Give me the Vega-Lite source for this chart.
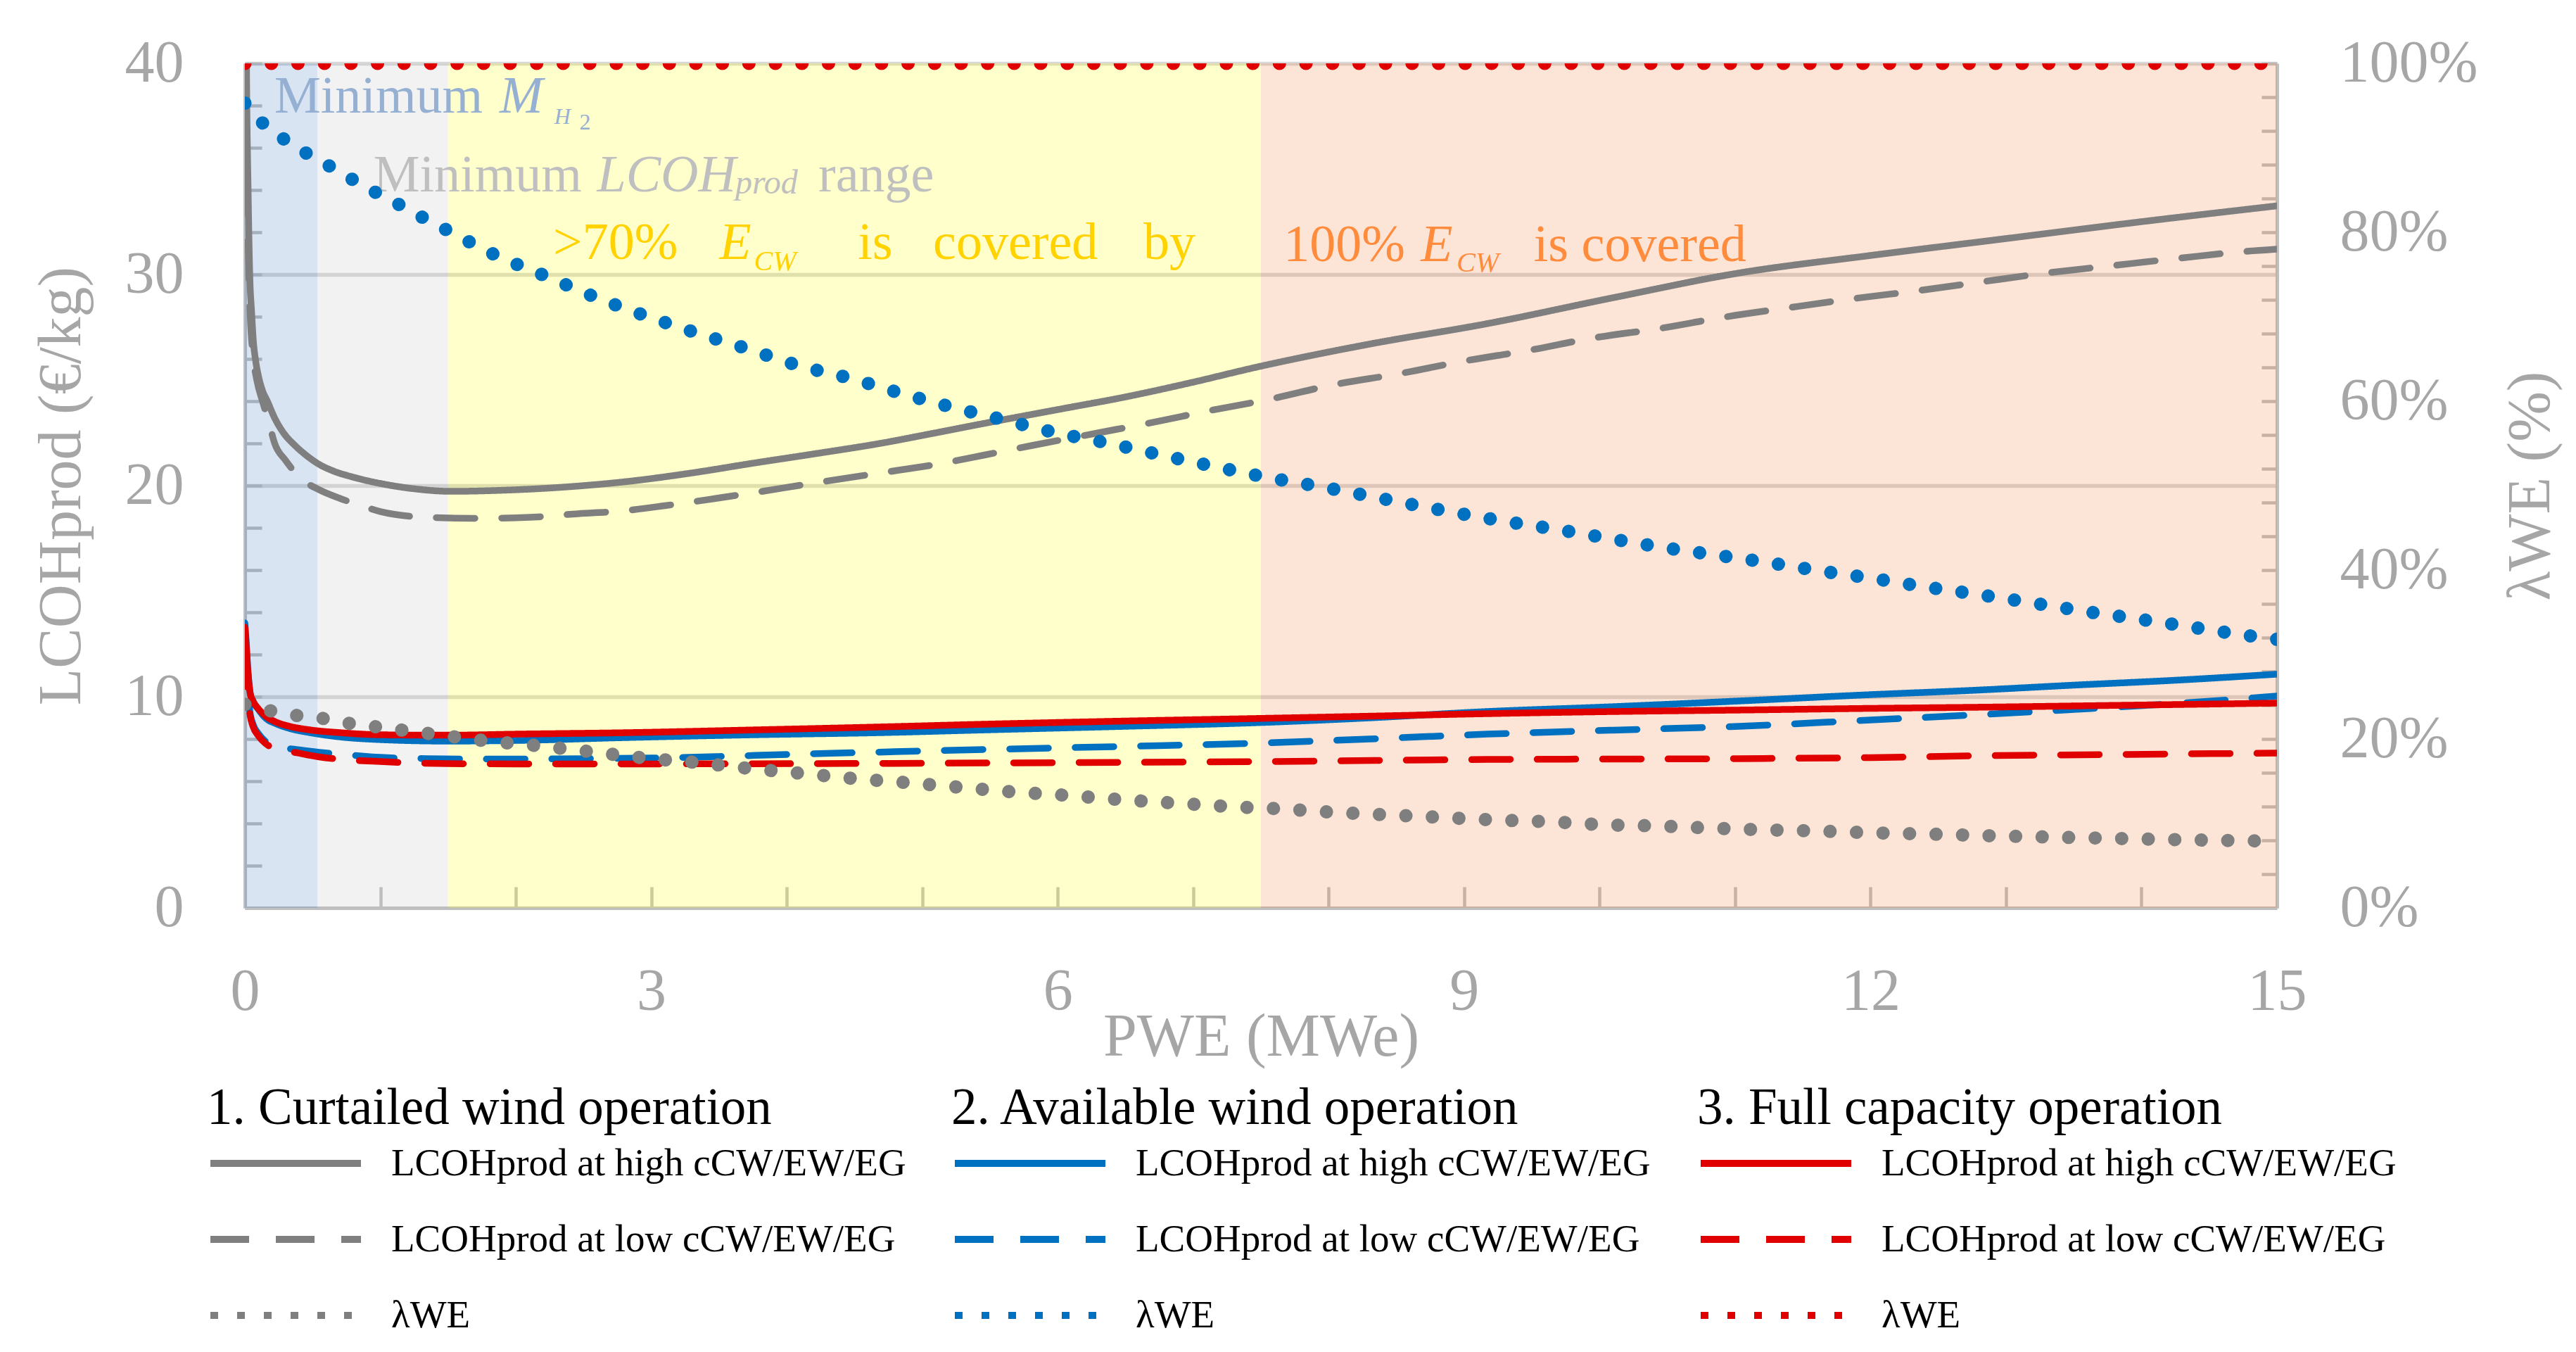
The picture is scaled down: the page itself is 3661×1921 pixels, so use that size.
{
  "$schema": "https://vega.github.io/schema/vega-lite/v6.json",
  "width": 2888,
  "height": 1200,
  "autosize": {"type": "none"},
  "padding": {"left": 348, "top": 90, "right": 425, "bottom": 631},
  "background": "white",
  "config": {
    "font": "Liberation Serif",
    "view": {"stroke": null},
    "axis": {"labelFont": "Liberation Serif", "titleFont": "Liberation Serif"},
    "legend": {"labelFont": "Liberation Serif", "titleFont": "Liberation Serif"}
  },
  "datasets": {
    "bands": [
      {"zone": "Minimum MH2", "start": 0, "end": 0.535},
      {"zone": "Minimum LCOHprod range", "start": 0.535, "end": 1.5},
      {"zone": ">70% ECW is covered by", "start": 1.5, "end": 7.5},
      {"zone": "100% ECW is covered", "start": 7.5, "end": 15}
    ],
    "lcoh": [
      {"mode":"curtailed","cost":"high","P":0.005,"LCOH":48},
      {"mode":"curtailed","cost":"high","P":0.012,"LCOH":40},
      {"mode":"curtailed","cost":"high","P":0.024,"LCOH":34},
      {"mode":"curtailed","cost":"high","P":0.036,"LCOH":30},
      {"mode":"curtailed","cost":"high","P":0.05,"LCOH":28.2},
      {"mode":"curtailed","cost":"high","P":0.062,"LCOH":26.9},
      {"mode":"curtailed","cost":"high","P":0.08,"LCOH":25.9},
      {"mode":"curtailed","cost":"high","P":0.1,"LCOH":25.2},
      {"mode":"curtailed","cost":"high","P":0.13,"LCOH":24.5},
      {"mode":"curtailed","cost":"high","P":0.166,"LCOH":24.0},
      {"mode":"curtailed","cost":"high","P":0.22,"LCOH":23.2},
      {"mode":"curtailed","cost":"high","P":0.285,"LCOH":22.5},
      {"mode":"curtailed","cost":"high","P":0.37,"LCOH":21.9},
      {"mode":"curtailed","cost":"high","P":0.46,"LCOH":21.4},
      {"mode":"curtailed","cost":"high","P":0.55,"LCOH":21.0},
      {"mode":"curtailed","cost":"high","P":0.65,"LCOH":20.7},
      {"mode":"curtailed","cost":"high","P":0.8,"LCOH":20.4},
      {"mode":"curtailed","cost":"high","P":1.0,"LCOH":20.1},
      {"mode":"curtailed","cost":"high","P":1.25,"LCOH":19.85},
      {"mode":"curtailed","cost":"high","P":1.52,"LCOH":19.73},
      {"mode":"curtailed","cost":"high","P":1.9,"LCOH":19.78},
      {"mode":"curtailed","cost":"high","P":2.4,"LCOH":19.95},
      {"mode":"curtailed","cost":"high","P":2.83,"LCOH":20.2},
      {"mode":"curtailed","cost":"high","P":3.3,"LCOH":20.6},
      {"mode":"curtailed","cost":"high","P":3.76,"LCOH":21.07},
      {"mode":"curtailed","cost":"high","P":4.2,"LCOH":21.5},
      {"mode":"curtailed","cost":"high","P":4.69,"LCOH":22.0},
      {"mode":"curtailed","cost":"high","P":5.1,"LCOH":22.5},
      {"mode":"curtailed","cost":"high","P":5.46,"LCOH":22.95},
      {"mode":"curtailed","cost":"high","P":6.0,"LCOH":23.6},
      {"mode":"curtailed","cost":"high","P":6.5,"LCOH":24.2},
      {"mode":"curtailed","cost":"high","P":7.0,"LCOH":24.9},
      {"mode":"curtailed","cost":"high","P":7.46,"LCOH":25.6},
      {"mode":"curtailed","cost":"high","P":8.3,"LCOH":26.7},
      {"mode":"curtailed","cost":"high","P":9.17,"LCOH":27.67},
      {"mode":"curtailed","cost":"high","P":10.1,"LCOH":28.9},
      {"mode":"curtailed","cost":"high","P":11.03,"LCOH":30.07},
      {"mode":"curtailed","cost":"high","P":12.0,"LCOH":30.9},
      {"mode":"curtailed","cost":"high","P":13.0,"LCOH":31.7},
      {"mode":"curtailed","cost":"high","P":14.0,"LCOH":32.5},
      {"mode":"curtailed","cost":"high","P":15,"LCOH":33.25},

      {"mode":"curtailed","cost":"low","P":0.005,"LCOH":44},
      {"mode":"curtailed","cost":"low","P":0.012,"LCOH":37},
      {"mode":"curtailed","cost":"low","P":0.024,"LCOH":31.5},
      {"mode":"curtailed","cost":"low","P":0.04,"LCOH":28},
      {"mode":"curtailed","cost":"low","P":0.06,"LCOH":26.2},
      {"mode":"curtailed","cost":"low","P":0.088,"LCOH":25.0},
      {"mode":"curtailed","cost":"low","P":0.13,"LCOH":24.0},
      {"mode":"curtailed","cost":"low","P":0.177,"LCOH":23.0},
      {"mode":"curtailed","cost":"low","P":0.22,"LCOH":22.0},
      {"mode":"curtailed","cost":"low","P":0.3,"LCOH":21.2},
      {"mode":"curtailed","cost":"low","P":0.42,"LCOH":20.3},
      {"mode":"curtailed","cost":"low","P":0.55,"LCOH":19.8},
      {"mode":"curtailed","cost":"low","P":0.7,"LCOH":19.4},
      {"mode":"curtailed","cost":"low","P":0.85,"LCOH":19.07},
      {"mode":"curtailed","cost":"low","P":1.0,"LCOH":18.77},
      {"mode":"curtailed","cost":"low","P":1.34,"LCOH":18.5},
      {"mode":"curtailed","cost":"low","P":1.7,"LCOH":18.45},
      {"mode":"curtailed","cost":"low","P":2.1,"LCOH":18.5},
      {"mode":"curtailed","cost":"low","P":2.46,"LCOH":18.67},
      {"mode":"curtailed","cost":"low","P":2.78,"LCOH":18.8},
      {"mode":"curtailed","cost":"low","P":3.1,"LCOH":19.05},
      {"mode":"curtailed","cost":"low","P":3.41,"LCOH":19.33},
      {"mode":"curtailed","cost":"low","P":3.76,"LCOH":19.67},
      {"mode":"curtailed","cost":"low","P":4.18,"LCOH":20.1},
      {"mode":"curtailed","cost":"low","P":4.69,"LCOH":20.6},
      {"mode":"curtailed","cost":"low","P":5.1,"LCOH":21.0},
      {"mode":"curtailed","cost":"low","P":5.46,"LCOH":21.45},
      {"mode":"curtailed","cost":"low","P":5.81,"LCOH":21.9},
      {"mode":"curtailed","cost":"low","P":6.3,"LCOH":22.5},
      {"mode":"curtailed","cost":"low","P":6.76,"LCOH":23.07},
      {"mode":"curtailed","cost":"low","P":7.08,"LCOH":23.5},
      {"mode":"curtailed","cost":"low","P":7.57,"LCOH":24.1},
      {"mode":"curtailed","cost":"low","P":8.03,"LCOH":24.77},
      {"mode":"curtailed","cost":"low","P":8.52,"LCOH":25.3},
      {"mode":"curtailed","cost":"low","P":9.0,"LCOH":25.9},
      {"mode":"curtailed","cost":"low","P":9.47,"LCOH":26.4},
      {"mode":"curtailed","cost":"low","P":9.96,"LCOH":27.0},
      {"mode":"curtailed","cost":"low","P":10.45,"LCOH":27.45},
      {"mode":"curtailed","cost":"low","P":10.91,"LCOH":27.97},
      {"mode":"curtailed","cost":"low","P":11.4,"LCOH":28.43},
      {"mode":"curtailed","cost":"low","P":11.89,"LCOH":28.87},
      {"mode":"curtailed","cost":"low","P":12.37,"LCOH":29.25},
      {"mode":"curtailed","cost":"low","P":12.84,"LCOH":29.67},
      {"mode":"curtailed","cost":"low","P":13.3,"LCOH":30.07},
      {"mode":"curtailed","cost":"low","P":13.8,"LCOH":30.43},
      {"mode":"curtailed","cost":"low","P":14.28,"LCOH":30.77},
      {"mode":"curtailed","cost":"low","P":14.78,"LCOH":31.1},
      {"mode":"curtailed","cost":"low","P":15,"LCOH":31.2},

      {"mode":"available","cost":"high","P":0.0,"LCOH":13.5},
      {"mode":"available","cost":"high","P":0.01,"LCOH":12.6},
      {"mode":"available","cost":"high","P":0.02,"LCOH":11.5},
      {"mode":"available","cost":"high","P":0.03,"LCOH":10.7},
      {"mode":"available","cost":"high","P":0.04,"LCOH":10.15},
      {"mode":"available","cost":"high","P":0.06,"LCOH":9.8},
      {"mode":"available","cost":"high","P":0.1,"LCOH":9.4},
      {"mode":"available","cost":"high","P":0.16,"LCOH":8.95},
      {"mode":"available","cost":"high","P":0.22,"LCOH":8.75},
      {"mode":"available","cost":"high","P":0.33,"LCOH":8.5},
      {"mode":"available","cost":"high","P":0.48,"LCOH":8.3},
      {"mode":"available","cost":"high","P":0.7,"LCOH":8.1},
      {"mode":"available","cost":"high","P":1.0,"LCOH":7.97},
      {"mode":"available","cost":"high","P":1.5,"LCOH":7.9},
      {"mode":"available","cost":"high","P":2.0,"LCOH":7.93},
      {"mode":"available","cost":"high","P":2.83,"LCOH":8.07},
      {"mode":"available","cost":"high","P":3.76,"LCOH":8.2},
      {"mode":"available","cost":"high","P":4.69,"LCOH":8.3},
      {"mode":"available","cost":"high","P":5.46,"LCOH":8.43},
      {"mode":"available","cost":"high","P":6.5,"LCOH":8.6},
      {"mode":"available","cost":"high","P":7.46,"LCOH":8.77},
      {"mode":"available","cost":"high","P":8.3,"LCOH":9.0},
      {"mode":"available","cost":"high","P":9.17,"LCOH":9.3},
      {"mode":"available","cost":"high","P":10.1,"LCOH":9.53},
      {"mode":"available","cost":"high","P":11.03,"LCOH":9.8},
      {"mode":"available","cost":"high","P":12.0,"LCOH":10.1},
      {"mode":"available","cost":"high","P":12.74,"LCOH":10.3},
      {"mode":"available","cost":"high","P":13.5,"LCOH":10.55},
      {"mode":"available","cost":"high","P":14.3,"LCOH":10.8},
      {"mode":"available","cost":"high","P":15,"LCOH":11.07},

      {"mode":"available","cost":"low","P":0.0,"LCOH":12.6},
      {"mode":"available","cost":"low","P":0.01,"LCOH":11.5},
      {"mode":"available","cost":"low","P":0.02,"LCOH":10.5},
      {"mode":"available","cost":"low","P":0.037,"LCOH":9.3},
      {"mode":"available","cost":"low","P":0.06,"LCOH":8.7},
      {"mode":"available","cost":"low","P":0.1,"LCOH":8.25},
      {"mode":"available","cost":"low","P":0.15,"LCOH":7.9},
      {"mode":"available","cost":"low","P":0.2,"LCOH":7.7},
      {"mode":"available","cost":"low","P":0.38,"LCOH":7.5},
      {"mode":"available","cost":"low","P":0.55,"LCOH":7.37},
      {"mode":"available","cost":"low","P":0.72,"LCOH":7.27},
      {"mode":"available","cost":"low","P":1.0,"LCOH":7.13},
      {"mode":"available","cost":"low","P":1.35,"LCOH":7.07},
      {"mode":"available","cost":"low","P":1.69,"LCOH":7.05},
      {"mode":"available","cost":"low","P":2.0,"LCOH":7.05},
      {"mode":"available","cost":"low","P":2.5,"LCOH":7.07},
      {"mode":"available","cost":"low","P":3.0,"LCOH":7.1},
      {"mode":"available","cost":"low","P":3.5,"LCOH":7.17},
      {"mode":"available","cost":"low","P":4.0,"LCOH":7.27},
      {"mode":"available","cost":"low","P":4.5,"LCOH":7.35},
      {"mode":"available","cost":"low","P":5.0,"LCOH":7.43},
      {"mode":"available","cost":"low","P":5.46,"LCOH":7.5},
      {"mode":"available","cost":"low","P":6.5,"LCOH":7.65},
      {"mode":"available","cost":"low","P":7.46,"LCOH":7.8},
      {"mode":"available","cost":"low","P":8.3,"LCOH":8.0},
      {"mode":"available","cost":"low","P":9.17,"LCOH":8.23},
      {"mode":"available","cost":"low","P":10.1,"LCOH":8.42},
      {"mode":"available","cost":"low","P":11.03,"LCOH":8.6},
      {"mode":"available","cost":"low","P":12.0,"LCOH":8.9},
      {"mode":"available","cost":"low","P":12.74,"LCOH":9.13},
      {"mode":"available","cost":"low","P":13.5,"LCOH":9.4},
      {"mode":"available","cost":"low","P":14.3,"LCOH":9.7},
      {"mode":"available","cost":"low","P":15,"LCOH":10.03},

      {"mode":"full","cost":"high","P":0.0,"LCOH":13.3},
      {"mode":"full","cost":"high","P":0.01,"LCOH":12.4},
      {"mode":"full","cost":"high","P":0.02,"LCOH":11.4},
      {"mode":"full","cost":"high","P":0.03,"LCOH":10.65},
      {"mode":"full","cost":"high","P":0.04,"LCOH":10.15},
      {"mode":"full","cost":"high","P":0.06,"LCOH":9.8},
      {"mode":"full","cost":"high","P":0.1,"LCOH":9.43},
      {"mode":"full","cost":"high","P":0.16,"LCOH":9.05},
      {"mode":"full","cost":"high","P":0.22,"LCOH":8.83},
      {"mode":"full","cost":"high","P":0.33,"LCOH":8.6},
      {"mode":"full","cost":"high","P":0.48,"LCOH":8.43},
      {"mode":"full","cost":"high","P":0.7,"LCOH":8.3},
      {"mode":"full","cost":"high","P":1.0,"LCOH":8.2},
      {"mode":"full","cost":"high","P":1.5,"LCOH":8.18},
      {"mode":"full","cost":"high","P":2.0,"LCOH":8.23},
      {"mode":"full","cost":"high","P":2.83,"LCOH":8.3},
      {"mode":"full","cost":"high","P":3.76,"LCOH":8.43},
      {"mode":"full","cost":"high","P":4.69,"LCOH":8.57},
      {"mode":"full","cost":"high","P":5.46,"LCOH":8.7},
      {"mode":"full","cost":"high","P":6.5,"LCOH":8.85},
      {"mode":"full","cost":"high","P":7.46,"LCOH":8.97},
      {"mode":"full","cost":"high","P":8.3,"LCOH":9.08},
      {"mode":"full","cost":"high","P":9.17,"LCOH":9.2},
      {"mode":"full","cost":"high","P":10.1,"LCOH":9.3},
      {"mode":"full","cost":"high","P":11.03,"LCOH":9.37},
      {"mode":"full","cost":"high","P":12.0,"LCOH":9.45},
      {"mode":"full","cost":"high","P":12.74,"LCOH":9.5},
      {"mode":"full","cost":"high","P":13.9,"LCOH":9.6},
      {"mode":"full","cost":"high","P":15,"LCOH":9.7},

      {"mode":"full","cost":"low","P":0.0,"LCOH":12.3},
      {"mode":"full","cost":"low","P":0.01,"LCOH":11.3},
      {"mode":"full","cost":"low","P":0.02,"LCOH":10.3},
      {"mode":"full","cost":"low","P":0.037,"LCOH":9.2},
      {"mode":"full","cost":"low","P":0.06,"LCOH":8.6},
      {"mode":"full","cost":"low","P":0.1,"LCOH":8.15},
      {"mode":"full","cost":"low","P":0.15,"LCOH":7.8},
      {"mode":"full","cost":"low","P":0.2,"LCOH":7.6},
      {"mode":"full","cost":"low","P":0.4,"LCOH":7.33},
      {"mode":"full","cost":"low","P":0.55,"LCOH":7.15},
      {"mode":"full","cost":"low","P":0.72,"LCOH":7.03},
      {"mode":"full","cost":"low","P":1.0,"LCOH":6.93},
      {"mode":"full","cost":"low","P":1.5,"LCOH":6.83},
      {"mode":"full","cost":"low","P":2.0,"LCOH":6.82},
      {"mode":"full","cost":"low","P":3.0,"LCOH":6.82},
      {"mode":"full","cost":"low","P":4.0,"LCOH":6.83},
      {"mode":"full","cost":"low","P":5.0,"LCOH":6.85},
      {"mode":"full","cost":"low","P":6.0,"LCOH":6.88},
      {"mode":"full","cost":"low","P":7.46,"LCOH":6.93},
      {"mode":"full","cost":"low","P":9.17,"LCOH":7.03},
      {"mode":"full","cost":"low","P":11.03,"LCOH":7.07},
      {"mode":"full","cost":"low","P":12.0,"LCOH":7.12},
      {"mode":"full","cost":"low","P":12.74,"LCOH":7.2},
      {"mode":"full","cost":"low","P":13.9,"LCOH":7.27},
      {"mode":"full","cost":"low","P":15,"LCOH":7.33}
    ],
    "lambda": [
      {"mode":"curtailed","P":0,"lambda":24.1},
      {"mode":"curtailed","P":0.2,"lambda":23.3},
      {"mode":"curtailed","P":0.4,"lambda":22.75},
      {"mode":"curtailed","P":0.59,"lambda":22.4},
      {"mode":"curtailed","P":0.79,"lambda":21.8},
      {"mode":"curtailed","P":0.99,"lambda":21.4},
      {"mode":"curtailed","P":1.38,"lambda":20.6},
      {"mode":"curtailed","P":1.77,"lambda":19.8},
      {"mode":"curtailed","P":2.16,"lambda":19.2},
      {"mode":"curtailed","P":2.55,"lambda":18.5},
      {"mode":"curtailed","P":2.95,"lambda":17.75},
      {"mode":"curtailed","P":3.34,"lambda":17.2},
      {"mode":"curtailed","P":3.73,"lambda":16.5},
      {"mode":"curtailed","P":4.13,"lambda":15.9},
      {"mode":"curtailed","P":4.51,"lambda":15.3},
      {"mode":"curtailed","P":4.91,"lambda":14.8},
      {"mode":"curtailed","P":5.3,"lambda":14.25},
      {"mode":"curtailed","P":5.7,"lambda":13.7},
      {"mode":"curtailed","P":6.09,"lambda":13.3},
      {"mode":"curtailed","P":6.48,"lambda":12.8},
      {"mode":"curtailed","P":6.88,"lambda":12.4},
      {"mode":"curtailed","P":7.27,"lambda":12.0},
      {"mode":"curtailed","P":7.67,"lambda":11.7},
      {"mode":"curtailed","P":8.06,"lambda":11.3},
      {"mode":"curtailed","P":8.46,"lambda":11.0},
      {"mode":"curtailed","P":8.85,"lambda":10.7},
      {"mode":"curtailed","P":9.25,"lambda":10.4},
      {"mode":"curtailed","P":9.64,"lambda":10.2},
      {"mode":"curtailed","P":10.03,"lambda":9.85},
      {"mode":"curtailed","P":10.43,"lambda":9.7},
      {"mode":"curtailed","P":10.82,"lambda":9.45},
      {"mode":"curtailed","P":11.21,"lambda":9.25},
      {"mode":"curtailed","P":11.61,"lambda":9.1},
      {"mode":"curtailed","P":12.0,"lambda":8.9},
      {"mode":"curtailed","P":12.41,"lambda":8.75},
      {"mode":"curtailed","P":13.0,"lambda":8.5},
      {"mode":"curtailed","P":13.6,"lambda":8.3},
      {"mode":"curtailed","P":14.2,"lambda":8.1},
      {"mode":"curtailed","P":15,"lambda":7.9},

      {"mode":"available","P":0,"lambda":95.3},
      {"mode":"available","P":0.14,"lambda":92.8},
      {"mode":"available","P":0.3,"lambda":90.9},
      {"mode":"available","P":0.46,"lambda":89.3},
      {"mode":"available","P":0.64,"lambda":87.7},
      {"mode":"available","P":0.81,"lambda":86.1},
      {"mode":"available","P":0.99,"lambda":84.5},
      {"mode":"available","P":1.16,"lambda":83.1},
      {"mode":"available","P":1.33,"lambda":81.6},
      {"mode":"available","P":1.51,"lambda":80.1},
      {"mode":"available","P":1.85,"lambda":77.3},
      {"mode":"available","P":2.23,"lambda":74.75},
      {"mode":"available","P":2.59,"lambda":72.3},
      {"mode":"available","P":2.96,"lambda":70.1},
      {"mode":"available","P":3.33,"lambda":68.1},
      {"mode":"available","P":3.71,"lambda":66.2},
      {"mode":"available","P":4.08,"lambda":64.25},
      {"mode":"available","P":4.47,"lambda":62.7},
      {"mode":"available","P":4.85,"lambda":60.9},
      {"mode":"available","P":5.23,"lambda":59.25},
      {"mode":"available","P":5.61,"lambda":57.75},
      {"mode":"available","P":5.99,"lambda":56.25},
      {"mode":"available","P":6.38,"lambda":55.0},
      {"mode":"available","P":6.77,"lambda":53.6},
      {"mode":"available","P":7.16,"lambda":52.25},
      {"mode":"available","P":7.54,"lambda":51.0},
      {"mode":"available","P":7.93,"lambda":49.9},
      {"mode":"available","P":8.51,"lambda":48.1},
      {"mode":"available","P":8.9,"lambda":46.9},
      {"mode":"available","P":9.29,"lambda":45.8},
      {"mode":"available","P":9.69,"lambda":44.8},
      {"mode":"available","P":10.07,"lambda":43.75},
      {"mode":"available","P":10.46,"lambda":42.7},
      {"mode":"available","P":10.85,"lambda":41.8},
      {"mode":"available","P":11.24,"lambda":40.9},
      {"mode":"available","P":11.63,"lambda":39.9},
      {"mode":"available","P":12.02,"lambda":39.0},
      {"mode":"available","P":12.41,"lambda":38.0},
      {"mode":"available","P":12.8,"lambda":37.1},
      {"mode":"available","P":13.2,"lambda":36.1},
      {"mode":"available","P":13.59,"lambda":35.1},
      {"mode":"available","P":13.98,"lambda":34.2},
      {"mode":"available","P":14.37,"lambda":33.25},
      {"mode":"available","P":14.76,"lambda":32.3},
      {"mode":"available","P":15,"lambda":31.8},

      {"mode":"full","P":0,"lambda":100},
      {"mode":"full","P":15,"lambda":100}
    ]
  },
  "layer": [
    {
      "data": {"name": "bands"},
      "mark": {"type": "rect", "opacity": 0.2},
      "encoding": {
        "x": {
          "field": "start", "type": "quantitative",
          "scale": {"domain": [0, 15], "nice": false},
          "axis": {
            "values": [0,1,2,3,4,5,6,7,8,9,10,11,12,13,14,15],
            "labelExpr": "datum.value % 3 === 0 ? '' + datum.value : ''",
            "title": "PWE (MWe)",
            "grid": false,
            "domainColor": "#BFBFBF", "domainWidth": 5,
            "tickColor": "#BFBFBF", "tickWidth": 4.5, "tickSize": -30,
            "labelFontSize": 84, "labelColor": "#A6A6A6", "labelPadding": 108,
            "labelFlush": false, "labelOverlap": false,
            "titleFontSize": 86, "titleColor": "#A6A6A6", "titleFontWeight": "normal", "titlePadding": -20,
            "zindex": 0
          }
        },
        "x2": {"field": "end"},
        "fill": {
          "field": "zone", "type": "nominal",
          "scale": {
            "domain": ["Minimum MH2", "Minimum LCOHprod range", ">70% ECW is covered by", "100% ECW is covered"],
            "range": ["#4178C3", "#BEBEBE", "#FFFF00", "#F07D32"]
          },
          "legend": null
        }
      }
    },
    {
      "layer": [
        {
          "data": {"name": "lcoh"},
          "transform": [{"filter": "datum.mode === 'curtailed'"}],
          "mark": {"type": "line", "strokeWidth": 9.5, "strokeCap": "round", "clip": true, "interpolate": "monotone"},
          "encoding": {
            "x": {"field": "P", "type": "quantitative", "scale": {"domain": [0, 15], "nice": false}},
            "y": {
              "field": "LCOH", "type": "quantitative",
              "scale": {"domain": [0, 40], "nice": false},
              "axis": {
                "orient": "left",
                "values": [0,2,4,6,8,10,12,14,16,18,20,22,24,26,28,30,32,34,36,38,40],
                "labelExpr": "datum.value % 10 === 0 ? '' + datum.value : ''",
                "title": "LCOHprod (€/kg)",
                "grid": true, "gridColor": "#D9D9D9", "gridWidth": 5.5,
                "gridOpacity": {"condition": {"test": "datum.value % 10 === 0 && datum.value > 0", "value": 1}, "value": 0},
                "domainColor": "#BFBFBF", "domainWidth": 5,
                "tickColor": "#BFBFBF", "tickWidth": 4.5, "tickSize": -24,
                "labelFontSize": 84, "labelColor": "#A6A6A6", "labelPadding": 111, "labelOverlap": false,
                "titleFontSize": 86, "titleColor": "#A6A6A6", "titleFontWeight": "normal", "titlePadding": 46,
                "zindex": 0
              }
            },
            "color": {
              "field": "cost", "type": "nominal",
              "scale": {"domain": ["high", "low", "lambda"], "range": ["#7F7F7F", "#7F7F7F", "#7F7F7F"]},
              "legend": {
                "title": "1. Curtailed wind operation",
                "orient": "none", "legendX": -54, "legendY": 1449, "direction": "vertical",
                "symbolType": "stroke", "symbolSize": 45796, "symbolStrokeWidth": 10,
                "clipHeight": 58, "rowPadding": 50, "padding": 0,
                "labelExpr": "datum.value === 'high' ? 'LCOHprod at high cCW/EW/EG' : datum.value === 'low' ? 'LCOHprod at low cCW/EW/EG' : 'λWE'",
                "labelFontSize": 55, "labelColor": "#000000", "labelOffset": 38, "labelLimit": 3000,
                "titleFontSize": 73, "titleFontWeight": "normal", "titleColor": "#000000", "titlePadding": 12, "titleLimit": 3000, "titleAnchor": "start"
              }
            },
            "strokeDash": {
              "field": "cost", "type": "nominal",
              "scale": {"domain": ["high", "low", "lambda"], "range": [[1, 0], [55, 38], [11, 27]]},
              "legend": {
                "title": "1. Curtailed wind operation",
                "orient": "none", "legendX": -54, "legendY": 1449, "direction": "vertical",
                "symbolType": "stroke", "symbolSize": 45796, "symbolStrokeWidth": 10,
                "clipHeight": 58, "rowPadding": 50, "padding": 0,
                "labelExpr": "datum.value === 'high' ? 'LCOHprod at high cCW/EW/EG' : datum.value === 'low' ? 'LCOHprod at low cCW/EW/EG' : 'λWE'",
                "labelFontSize": 55, "labelColor": "#000000", "labelOffset": 38, "labelLimit": 3000,
                "titleFontSize": 73, "titleFontWeight": "normal", "titleColor": "#000000", "titlePadding": 12, "titleLimit": 3000, "titleAnchor": "start"
              }
            }
          }
        },
        {
          "data": {"values": [{"t": "Minimum", "P": 0.218, "L": 37.68}]},
          "mark": {"type": "text", "align": "left", "baseline": "alphabetic", "fontSize": 74, "color": "#95B0D2"},
          "encoding": {
            "x": {"field": "P", "type": "quantitative", "scale": {"domain": [0, 15], "nice": false}},
            "y": {"field": "L", "type": "quantitative", "scale": {"domain": [0, 40], "nice": false}},
            "text": {"field": "t"}
          }
        },
        {
          "data": {"values": [{"t": "M", "P": 1.88, "L": 37.68}]},
          "mark": {"type": "text", "align": "left", "baseline": "alphabetic", "fontSize": 74, "fontStyle": "italic", "color": "#95B0D2"},
          "encoding": {
            "x": {"field": "P", "type": "quantitative", "scale": {"domain": [0, 15], "nice": false}},
            "y": {"field": "L", "type": "quantitative", "scale": {"domain": [0, 40], "nice": false}},
            "text": {"field": "t"}
          }
        },
        {
          "data": {"values": [{"t": "H", "P": 2.284, "L": 37.13}]},
          "mark": {"type": "text", "align": "left", "baseline": "alphabetic", "fontSize": 32, "fontStyle": "italic", "color": "#95B0D2"},
          "encoding": {
            "x": {"field": "P", "type": "quantitative", "scale": {"domain": [0, 15], "nice": false}},
            "y": {"field": "L", "type": "quantitative", "scale": {"domain": [0, 40], "nice": false}},
            "text": {"field": "t"}
          }
        },
        {
          "data": {"values": [{"t": "2", "P": 2.47, "L": 36.87}]},
          "mark": {"type": "text", "align": "left", "baseline": "alphabetic", "fontSize": 32, "color": "#95B0D2"},
          "encoding": {
            "x": {"field": "P", "type": "quantitative", "scale": {"domain": [0, 15], "nice": false}},
            "y": {"field": "L", "type": "quantitative", "scale": {"domain": [0, 40], "nice": false}},
            "text": {"field": "t"}
          }
        },
        {
          "data": {"values": [{"t": "Minimum", "P": 0.949, "L": 33.93}, {"t": "range", "P": 4.233, "L": 33.93}]},
          "mark": {"type": "text", "align": "left", "baseline": "alphabetic", "fontSize": 74, "color": "#BFBFBF"},
          "encoding": {
            "x": {"field": "P", "type": "quantitative", "scale": {"domain": [0, 15], "nice": false}},
            "y": {"field": "L", "type": "quantitative", "scale": {"domain": [0, 40], "nice": false}},
            "text": {"field": "t"}
          }
        },
        {
          "data": {"values": [{"t": "LCOH", "P": 2.6, "L": 33.93}]},
          "mark": {"type": "text", "align": "left", "baseline": "alphabetic", "fontSize": 74, "fontStyle": "italic", "color": "#BFBFBF"},
          "encoding": {
            "x": {"field": "P", "type": "quantitative", "scale": {"domain": [0, 15], "nice": false}},
            "y": {"field": "L", "type": "quantitative", "scale": {"domain": [0, 40], "nice": false}},
            "text": {"field": "t"}
          }
        },
        {
          "data": {"values": [{"t": "prod", "P": 3.62, "L": 33.83}]},
          "mark": {"type": "text", "align": "left", "baseline": "alphabetic", "fontSize": 48, "fontStyle": "italic", "color": "#BFBFBF"},
          "encoding": {
            "x": {"field": "P", "type": "quantitative", "scale": {"domain": [0, 15], "nice": false}},
            "y": {"field": "L", "type": "quantitative", "scale": {"domain": [0, 40], "nice": false}},
            "text": {"field": "t"}
          }
        },
        {
          "data": {"values": [{"t": ">70%", "P": 2.275, "L": 30.73}, {"t": "is", "P": 4.525, "L": 30.73}, {"t": "covered", "P": 5.08, "L": 30.73}, {"t": "by", "P": 6.633, "L": 30.73}]},
          "mark": {"type": "text", "align": "left", "baseline": "alphabetic", "fontSize": 74, "color": "#FFD200"},
          "encoding": {
            "x": {"field": "P", "type": "quantitative", "scale": {"domain": [0, 15], "nice": false}},
            "y": {"field": "L", "type": "quantitative", "scale": {"domain": [0, 40], "nice": false}},
            "text": {"field": "t"}
          }
        },
        {
          "data": {"values": [{"t": "E", "P": 3.503, "L": 30.73}]},
          "mark": {"type": "text", "align": "left", "baseline": "alphabetic", "fontSize": 74, "fontStyle": "italic", "color": "#FFD200"},
          "encoding": {
            "x": {"field": "P", "type": "quantitative", "scale": {"domain": [0, 15], "nice": false}},
            "y": {"field": "L", "type": "quantitative", "scale": {"domain": [0, 40], "nice": false}},
            "text": {"field": "t"}
          }
        },
        {
          "data": {"values": [{"t": "CW", "P": 3.759, "L": 30.2}]},
          "mark": {"type": "text", "align": "left", "baseline": "alphabetic", "fontSize": 40, "fontStyle": "italic", "color": "#FFD200"},
          "encoding": {
            "x": {"field": "P", "type": "quantitative", "scale": {"domain": [0, 15], "nice": false}},
            "y": {"field": "L", "type": "quantitative", "scale": {"domain": [0, 40], "nice": false}},
            "text": {"field": "t"}
          }
        },
        {
          "data": {"values": [{"t": "100%", "P": 7.668, "L": 30.65}, {"t": "is covered", "P": 9.514, "L": 30.65}]},
          "mark": {"type": "text", "align": "left", "baseline": "alphabetic", "fontSize": 74, "color": "#FF8B3D"},
          "encoding": {
            "x": {"field": "P", "type": "quantitative", "scale": {"domain": [0, 15], "nice": false}},
            "y": {"field": "L", "type": "quantitative", "scale": {"domain": [0, 40], "nice": false}},
            "text": {"field": "t"}
          }
        },
        {
          "data": {"values": [{"t": "E", "P": 8.68, "L": 30.65}]},
          "mark": {"type": "text", "align": "left", "baseline": "alphabetic", "fontSize": 74, "fontStyle": "italic", "color": "#FF8B3D"},
          "encoding": {
            "x": {"field": "P", "type": "quantitative", "scale": {"domain": [0, 15], "nice": false}},
            "y": {"field": "L", "type": "quantitative", "scale": {"domain": [0, 40], "nice": false}},
            "text": {"field": "t"}
          }
        },
        {
          "data": {"values": [{"t": "CW", "P": 8.945, "L": 30.13}]},
          "mark": {"type": "text", "align": "left", "baseline": "alphabetic", "fontSize": 40, "fontStyle": "italic", "color": "#FF8B3D"},
          "encoding": {
            "x": {"field": "P", "type": "quantitative", "scale": {"domain": [0, 15], "nice": false}},
            "y": {"field": "L", "type": "quantitative", "scale": {"domain": [0, 40], "nice": false}},
            "text": {"field": "t"}
          }
        },
        {
          "data": {"name": "lcoh"},
          "transform": [{"filter": "datum.mode === 'available'"}],
          "mark": {"type": "line", "strokeWidth": 9.5, "strokeCap": "round", "clip": true, "interpolate": "monotone"},
          "encoding": {
            "x": {"field": "P", "type": "quantitative", "scale": {"domain": [0, 15], "nice": false}},
            "y": {"field": "LCOH", "type": "quantitative", "scale": {"domain": [0, 40], "nice": false}},
            "color": {
              "field": "cost", "type": "nominal",
              "scale": {"domain": ["high", "low", "lambda"], "range": ["#0070C0", "#0070C0", "#0070C0"]},
              "legend": {
                "title": "2. Available wind operation",
                "orient": "none", "legendX": 1004, "legendY": 1449, "direction": "vertical",
                "symbolType": "stroke", "symbolSize": 45796, "symbolStrokeWidth": 10,
                "clipHeight": 58, "rowPadding": 50, "padding": 0,
                "labelExpr": "datum.value === 'high' ? 'LCOHprod at high cCW/EW/EG' : datum.value === 'low' ? 'LCOHprod at low cCW/EW/EG' : 'λWE'",
                "labelFontSize": 55, "labelColor": "#000000", "labelOffset": 38, "labelLimit": 3000,
                "titleFontSize": 73, "titleFontWeight": "normal", "titleColor": "#000000", "titlePadding": 12, "titleLimit": 3000, "titleAnchor": "start"
              }
            },
            "strokeDash": {
              "field": "cost", "type": "nominal",
              "scale": {"domain": ["high", "low", "lambda"], "range": [[1, 0], [55, 38], [11, 27]]},
              "legend": {
                "title": "2. Available wind operation",
                "orient": "none", "legendX": 1004, "legendY": 1449, "direction": "vertical",
                "symbolType": "stroke", "symbolSize": 45796, "symbolStrokeWidth": 10,
                "clipHeight": 58, "rowPadding": 50, "padding": 0,
                "labelExpr": "datum.value === 'high' ? 'LCOHprod at high cCW/EW/EG' : datum.value === 'low' ? 'LCOHprod at low cCW/EW/EG' : 'λWE'",
                "labelFontSize": 55, "labelColor": "#000000", "labelOffset": 38, "labelLimit": 3000,
                "titleFontSize": 73, "titleFontWeight": "normal", "titleColor": "#000000", "titlePadding": 12, "titleLimit": 3000, "titleAnchor": "start"
              }
            }
          }
        },
        {
          "data": {"name": "lcoh"},
          "transform": [{"filter": "datum.mode === 'full'"}],
          "mark": {"type": "line", "strokeWidth": 9.5, "strokeCap": "round", "clip": true, "interpolate": "monotone"},
          "encoding": {
            "x": {"field": "P", "type": "quantitative", "scale": {"domain": [0, 15], "nice": false}},
            "y": {"field": "LCOH", "type": "quantitative", "scale": {"domain": [0, 40], "nice": false}},
            "color": {
              "field": "cost", "type": "nominal",
              "scale": {"domain": ["high", "low", "lambda"], "range": ["#E00000", "#E00000", "#E00000"]},
              "legend": {
                "title": "3. Full capacity operation",
                "orient": "none", "legendX": 2064, "legendY": 1449, "direction": "vertical",
                "symbolType": "stroke", "symbolSize": 45796, "symbolStrokeWidth": 10,
                "clipHeight": 58, "rowPadding": 50, "padding": 0,
                "labelExpr": "datum.value === 'high' ? 'LCOHprod at high cCW/EW/EG' : datum.value === 'low' ? 'LCOHprod at low cCW/EW/EG' : 'λWE'",
                "labelFontSize": 55, "labelColor": "#000000", "labelOffset": 38, "labelLimit": 3000,
                "titleFontSize": 73, "titleFontWeight": "normal", "titleColor": "#000000", "titlePadding": 12, "titleLimit": 3000, "titleAnchor": "start"
              }
            },
            "strokeDash": {
              "field": "cost", "type": "nominal",
              "scale": {"domain": ["high", "low", "lambda"], "range": [[1, 0], [55, 38], [11, 27]]},
              "legend": {
                "title": "3. Full capacity operation",
                "orient": "none", "legendX": 2064, "legendY": 1449, "direction": "vertical",
                "symbolType": "stroke", "symbolSize": 45796, "symbolStrokeWidth": 10,
                "clipHeight": 58, "rowPadding": 50, "padding": 0,
                "labelExpr": "datum.value === 'high' ? 'LCOHprod at high cCW/EW/EG' : datum.value === 'low' ? 'LCOHprod at low cCW/EW/EG' : 'λWE'",
                "labelFontSize": 55, "labelColor": "#000000", "labelOffset": 38, "labelLimit": 3000,
                "titleFontSize": 73, "titleFontWeight": "normal", "titleColor": "#000000", "titlePadding": 12, "titleLimit": 3000, "titleAnchor": "start"
              }
            }
          }
        }
      ],
      "resolve": {"scale": {"color": "independent", "strokeDash": "independent"}}
    },
    {
      "data": {"name": "lambda"},
      "mark": {"type": "line", "strokeWidth": 19, "strokeCap": "round", "strokeDash": [0.1, 37.6], "clip": true, "interpolate": "monotone"},
      "encoding": {
        "x": {"field": "P", "type": "quantitative", "scale": {"domain": [0, 15], "nice": false}},
        "y": {
          "field": "lambda", "type": "quantitative",
          "scale": {"domain": [0, 100], "nice": false},
          "axis": {
            "orient": "right",
            "values": [0,4,8,12,16,20,24,28,32,36,40,44,48,52,56,60,64,68,72,76,80,84,88,92,96,100],
            "labelExpr": "datum.value % 20 === 0 ? datum.value + '%' : ''",
            "title": "λWE (%)",
            "titleAngle": 270, "titleBaseline": "top", "titleAlign": "center",
            "grid": false,
            "domainColor": "#BFBFBF", "domainWidth": 5,
            "tickColor": "#BFBFBF", "tickWidth": 4.5, "tickSize": -22,
            "labelFontSize": 84, "labelColor": "#A6A6A6", "labelPadding": 111, "labelOverlap": false, "labelLimit": 400,
            "titleFontSize": 86, "titleColor": "#A6A6A6", "titleFontWeight": "normal", "titlePadding": 118,
            "zindex": 0
          }
        },
        "stroke": {
          "field": "mode", "type": "nominal",
          "scale": {"domain": ["curtailed", "available", "full"], "range": ["#7F7F7F", "#0070C0", "#E00000"]},
          "legend": null
        }
      }
    }
  ],
  "resolve": {"scale": {"y": "independent"}}
}
